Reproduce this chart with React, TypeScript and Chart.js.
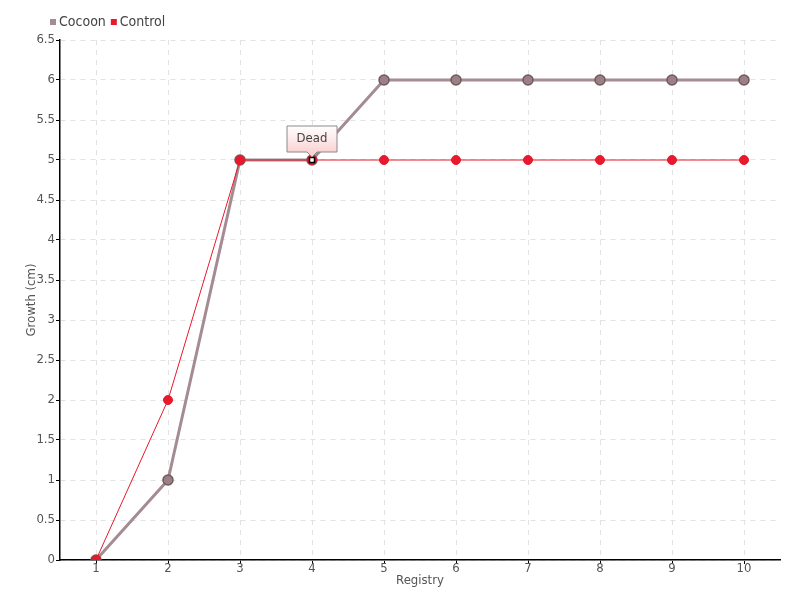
import React, { useEffect, useRef } from "react";
import { Chart, registerables } from "chart.js";

Chart.register(...registerables);

const categories = ["1", "2", "3", "4", "5", "6", "7", "8", "9", "10"];
const cocoonValues = [0, 1, 5, 5, 6, 6, 6, 6, 6, 6];
const controlValues = [0, 2, 5, 5, 5, 5, 5, 5, 5, 5];
const seriesNames = ["Cocoon", "Control"];
const seriesColors = ["#a48c92", "#e8192c"];
const annotationText = "Dead";
const annotationIndex = 3;
const yTitle = "Growth (cm)";
const xTitle = "Registry";

const FONT = "'DejaVu Sans Condensed', 'Liberation Sans Narrow', Roboto, sans-serif";

const annotationPlugin = {
  id: "deadNote",
  afterDatasetsDraw(chart: any) {
    const ctx = chart.ctx;
    const x = chart.scales.x.getPixelForValue(annotationIndex);
    const y = chart.scales.y.getPixelForValue(cocoonValues[annotationIndex]);
    ctx.save();
    ctx.fillStyle = "#ffffff";
    ctx.strokeStyle = "#000000";
    ctx.lineWidth = 1.5;
    ctx.fillRect(x - 2.5, y - 2.5, 5, 5);
    ctx.strokeRect(x - 2.5, y - 2.5, 5, 5);
    const w = 50, h = 26;
    const bx = x - 25, by = y - 34;
    const grad = ctx.createLinearGradient(0, by, 0, by + h);
    grad.addColorStop(0, "#ffffff");
    grad.addColorStop(1, "#fbd3d3");
    ctx.beginPath();
    ctx.moveTo(bx, by);
    ctx.lineTo(bx + w, by);
    ctx.lineTo(bx + w, by + h);
    ctx.lineTo(x + 5, by + h);
    ctx.lineTo(x, by + h + 5);
    ctx.lineTo(x - 5, by + h);
    ctx.lineTo(bx, by + h);
    ctx.closePath();
    ctx.fillStyle = grad;
    ctx.fill();
    ctx.strokeStyle = "#8a8a8a";
    ctx.lineWidth = 1;
    ctx.stroke();
    ctx.fillStyle = "#444444";
    ctx.font = "13px " + FONT;
    ctx.textAlign = "center";
    ctx.textBaseline = "middle";
    ctx.fillText(annotationText, x, by + h / 2);
    ctx.restore();
  },
};

const legendPlugin = {
  id: "customLegend",
  afterDraw(chart: any) {
    const ctx = chart.ctx;
    ctx.save();
    ctx.font = "14px " + FONT;
    ctx.textBaseline = "middle";
    ctx.textAlign = "left";
    let x = 50;
    const y = 22;
    chart.data.datasets.forEach((ds: any) => {
      ctx.fillStyle = ds.legendColor;
      ctx.fillRect(x, y - 3, 6, 6);
      x += 9;
      ctx.fillStyle = "#444";
      ctx.fillText(ds.label, x, y);
      x += ctx.measureText(ds.label).width + 5;
    });
    ctx.restore();
  },
};

export default function App() {
  const ref = useRef<HTMLCanvasElement>(null);
  useEffect(() => {
    document.body.style.margin = "0";
    const chart = new Chart(ref.current!, {
      type: "line",
      data: {
        labels: categories,
        datasets: [
          {
            label: seriesNames[0],
            legendColor: seriesColors[0],
            data: cocoonValues,
            borderColor: seriesColors[0],
            backgroundColor: seriesColors[0],
            borderWidth: 3,
            pointRadius: 5,
            pointBackgroundColor: "#9c8086",
            pointBorderColor: "#6f5a5f",
            pointBorderWidth: 1.5,
            order: 1,
            tension: 0,
          },
          {
            label: seriesNames[1],
            legendColor: seriesColors[1],
            data: controlValues,
            borderColor: seriesColors[1],
            backgroundColor: seriesColors[1],
            borderWidth: 1,
            pointRadius: 4.5,
            pointBackgroundColor: seriesColors[1],
            pointBorderColor: seriesColors[1],
            pointBorderWidth: 1,
            order: 0,
            tension: 0,
          },
        ] as any,
      },
      options: {
        animation: false,
        responsive: false,
        layout: { padding: { top: 40, right: 20, left: 0, bottom: 0 } },
        plugins: {
          tooltip: { enabled: false },
          legend: { display: false },
        },
        scales: {
          x: {
            offset: true,
            grid: {
              offset: false,
              color: "#e2e2e2",
              tickColor: "#000",
              tickLength: 4,
              tickBorderDash: [],
            } as any,
            border: { color: "#000", width: 1.5, dash: [5, 5] } as any,
            ticks: { color: "#555", font: { family: FONT, size: 13 }, padding: -3 },
            title: { display: true, text: xTitle, color: "#555", font: { family: FONT, size: 13 }, padding: { top: 12, bottom: 12 } },
            afterFit: (s: any) => { s.height = 40; },
          },
          y: {
            min: 0,
            max: 6.5,
            ticks: {
              stepSize: 0.5,
              color: "#555",
              font: { family: FONT, size: 13 },
              padding: 1,
              callback: (v: any) => String(v),
            },
            grid: {
              color: "#e2e2e2",
              tickColor: "#000",
              tickLength: 4,
              tickBorderDash: [],
            } as any,
            border: { color: "#000", width: 1.5, dash: [5, 5] } as any,
            title: { display: true, text: yTitle, color: "#555", font: { family: FONT, size: 13 }, padding: { top: 24, bottom: 24 } },
            afterFit: (s: any) => { s.width = 60; },
          },
        },
      } as any,
      plugins: [annotationPlugin, legendPlugin],
    });
    return () => chart.destroy();
  }, []);
  return <canvas ref={ref} width={800} height={600} />;
}
